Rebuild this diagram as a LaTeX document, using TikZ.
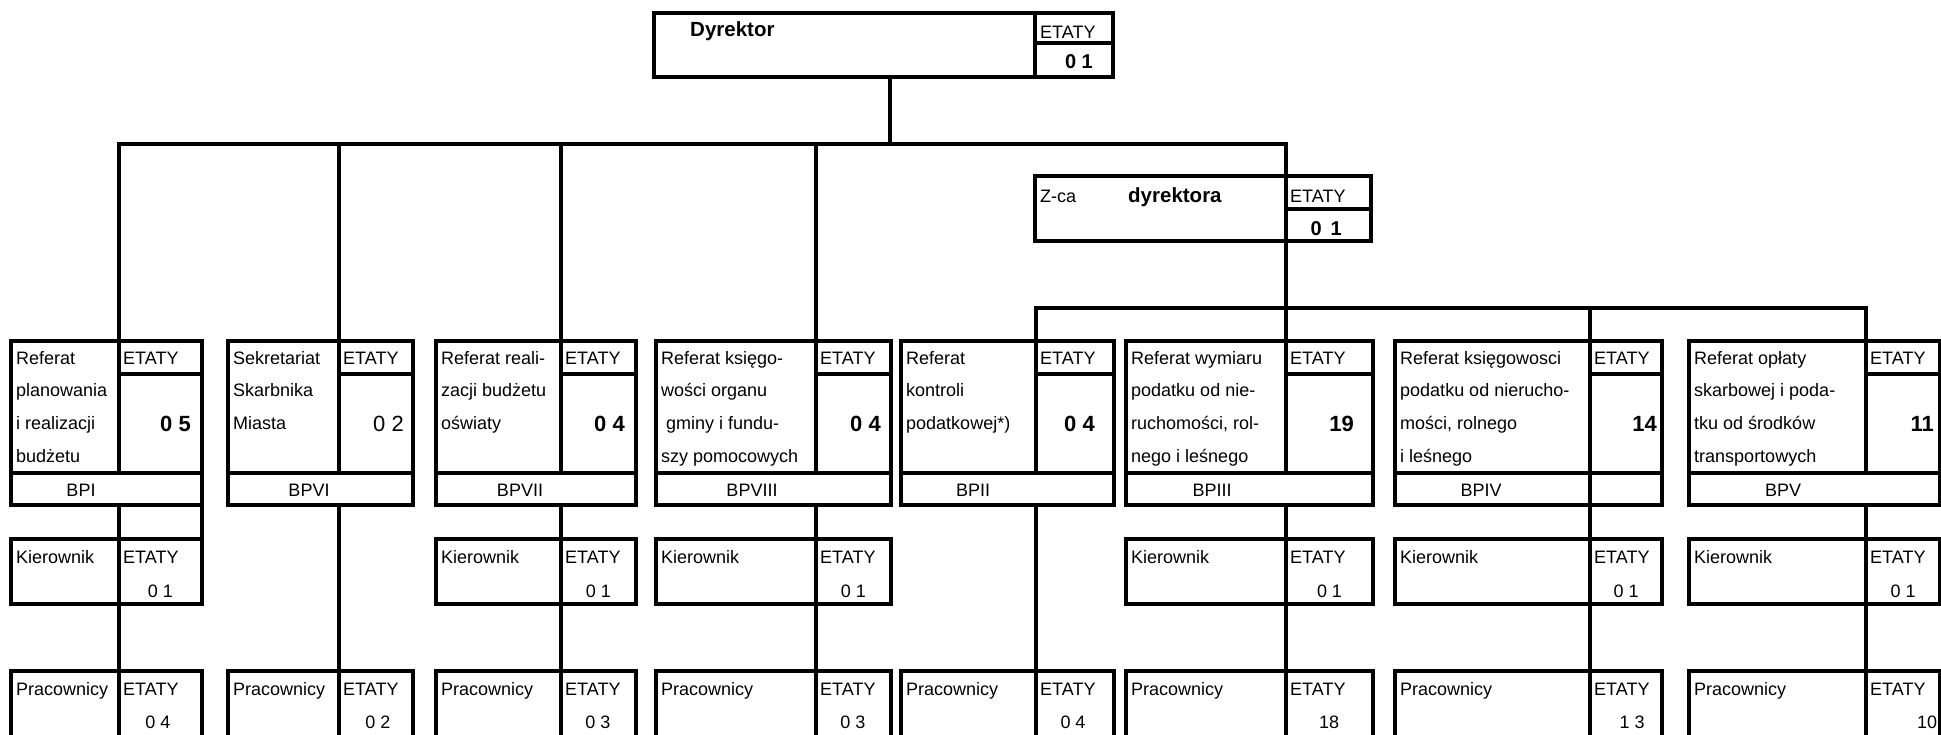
\documentclass[tikz,border=0pt]{standalone}
\usepackage{fontspec}
\setmainfont{Liberation Sans}
\usepackage{tikz}
\usetikzlibrary{positioning}
\tikzset{
  cell/.style={draw, line width=3.3pt, outer sep=0pt, inner sep=0pt, anchor=north west},
  link/.style={draw, line width=3.3pt},
  lbl/.style={font=\fontsize{18}{20}\selectfont, inner sep=0pt, anchor=base west},
  cnt/.style={font=\fontsize{18}{20}\selectfont, inner sep=0pt, anchor=base},
  bignum/.style={font=\fontsize{22}{24}\selectfont\bfseries, inner sep=0pt, anchor=base east},
  topnum/.style={bignum, font=\fontsize{20}{22}\selectfont\bfseries},
  head/.style={font=\fontsize{20.5}{22}\selectfont\bfseries, inner sep=0pt, anchor=base west},
}
\newcommand{\cellbox}[5]{%
  \node[cell, minimum width={#4pt-#2pt}, minimum height={#5pt-#3pt}] (#1) at (#2,#3) {};}
\newcommand{\referat}[9]{%
  \cellbox{d#1}{#2}{341}{#3}{473}
  \cellbox{e#1}{#3}{341}{#4}{374}
  \cellbox{n#1}{#3}{374}{#4}{473}
  \cellbox{b#1}{#2}{473}{#4}{505}
  \foreach \rowtext [count=\j] in {#7}
    \node[lbl] (d#1t\j) at ({#2+5},{364+32.7*(\j-1)}) {\rowtext};
  \node[lbl] (e#1t) at ({#3+4},364) {ETATY};
  \node[bignum] (n#1t) at (#9,431) {#8};
  \node[lbl, anchor=base] (b#1t) at (#6,496) {#5};
}
\newcommand{\kier}[4]{%
  \cellbox{kl#1}{#2}{539}{#3}{604}
  \cellbox{kr#1}{#3}{539}{#4}{604}
  \node[lbl] (kl#1t) at ({#2+5},563) {Kierownik};
  \node[lbl] (kr#1t) at ({#3+4},563) {ETATY};
  \node[cnt] (kr#1n) at ({(#3+#4)/2},597) {0 1};
}
\newcommand{\prac}[6]{%
  \cellbox{pl#1}{#2}{671}{#3}{760}
  \cellbox{pr#1}{#3}{671}{#4}{760}
  \node[lbl] (pl#1t) at ({#2+5},695) {Pracownicy};
  \node[lbl] (pr#1t) at ({#3+4},695) {ETATY};
  \node[cnt] (pr#1n) at (#6,728) {#5};
}
\begin{document}
\begin{tikzpicture}[x=1pt, y=-1pt]
  \clip (0,0) rectangle (1941,734);
  % Dyrektor and deputy
  \cellbox{dl}{654}{13}{1035}{77}
  \cellbox{de}{1035}{13}{1113}{43}
  \cellbox{dn}{1035}{43}{1113}{77}
  \node[head] (dlt) at (690,36) {Dyrektor};
  \node[lbl] (det) at (1040,38) {ETATY};
  \node[topnum] (dnt) at (1093,68) {0 1};
  \cellbox{zl}{1035}{176}{1286}{241}
  \cellbox{ze}{1286}{176}{1371}{209}
  \cellbox{zn}{1286}{209}{1371}{241}
  \node[lbl] (zlt) at (1040,202) {Z-ca};
  \node[head] (zlh) at (1128,202) {dyrektora};
  \node[lbl] (zet) at (1290,202) {ETATY};
  \node[topnum] (znt) at (1342,235) {0\, 1};
  % referaty
  \referat{1}{11}{119}{202}{BPI}{81}{Referat, planowania, i realizacji, budżetu}{0 5}{191}
  \referat{2}{228}{339}{413}{BPVI}{309}{Sekretariat, Skarbnika, Miasta}{\mdseries 0 2}{404}
  \referat{3}{436}{561}{636}{BPVII}{520}{Referat reali-, zacji budżetu, oświaty}{0 4}{625}
  \referat{4}{656}{816}{891}{BPVIII}{752}{Referat księgo-, wości organu, \ gminy i fundu-, szy pomocowych}{0 4}{881}
  \referat{5}{901}{1036}{1114}{BPII}{973}{Referat, kontroli, podatkowej*)}{0 4}{1095}
  \referat{6}{1126}{1286}{1373}{BPIII}{1212}{Referat wymiaru, podatku od nie-, {ruchomości, rol-}, nego i leśnego}{19}{1354}
  \referat{7}{1395}{1590}{1662}{BPIV}{1481}{Referat księgowosci, podatku od nierucho-, {mości, rolnego}, i leśnego}{14}{1657}
  \referat{8}{1689}{1866}{1940}{BPV}{1783}{Referat opłaty, skarbowej i poda-, tku od środków, transportowych}{11}{1934}
  \cellbox{b7r}{1590}{473}{1662}{505}
  \cellbox{x1}{119}{505}{202}{539}
  % kierownicy i pracownicy
  \kier{1}{11}{119}{202}
  \kier{3}{436}{561}{636}
  \kier{4}{656}{816}{891}
  \kier{6}{1126}{1286}{1373}
  \kier{7}{1395}{1590}{1662}
  \kier{8}{1689}{1866}{1940}
  \prac{1}{11}{119}{202}{0 4}{158}
  \prac{2}{228}{339}{413}{0 2}{378}
  \prac{3}{436}{561}{636}{0 3}{598}
  \prac{4}{656}{816}{891}{0 3}{853}
  \prac{5}{901}{1036}{1114}{0 4}{1073}
  \prac{6}{1126}{1286}{1373}{18}{1329}
  \prac{7}{1395}{1590}{1662}{1 3}{1632}
  \prac{8}{1689}{1866}{1940}{10}{1927}
  % connectors
  \coordinate (hub) at (890,144);
  \coordinate (hub2) at (1286,308);
  \draw[link] (dl.south -| hub) -- (hub);
  \draw[link] (e1.north west) -- (e1.north west |- hub) -- (ze.north west |- hub) -- (ze.north west);
  \foreach \i in {2,3,4} \draw[link] (e\i.north west |- hub) -- (e\i.north west);
  \draw[link] (zn.south west) -- (e6.north west);
  \draw[link] (e5.north west) -- (e5.north west |- hub2) -- (e8.north west |- hub2) -- (e8.north west);
  \draw[link] (e7.north west |- hub2) -- (e7.north west);
  \foreach \i in {1,3,4,6,7,8}
    \draw[link] (n\i.south west |- b\i.south) -- (kr\i.north west) (kr\i.south west) -- (pr\i.north west);
  \foreach \i in {2,5} \draw[link] (n\i.south west |- b\i.south) -- (pr\i.north west);
\end{tikzpicture}
\end{document}
